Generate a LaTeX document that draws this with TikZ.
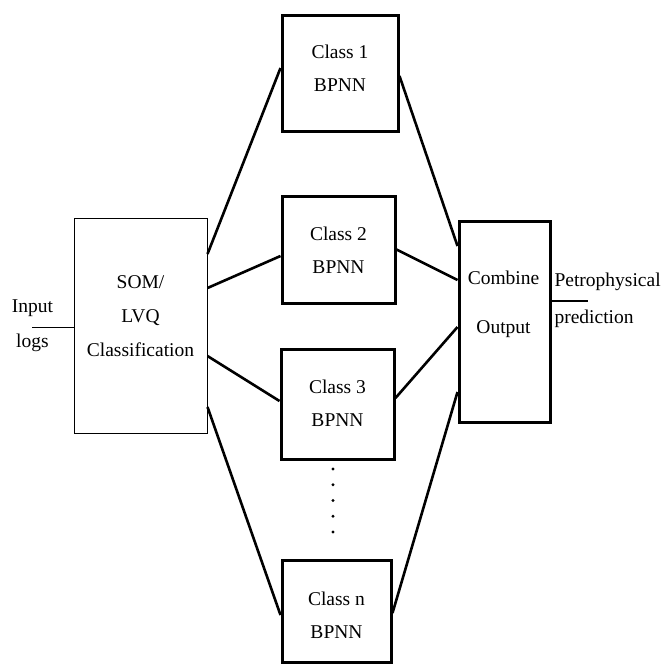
\documentclass[tikz,border=0pt]{standalone}
\usepackage{fontspec}
\setmainfont{Liberation Serif}
\usetikzlibrary{positioning,calc}

\begin{document}
\begin{tikzpicture}[x=1pt,y=-1pt,
  clsbox/.style={draw,line width=3pt,inner sep=0pt},
  lbl/.style={align=center,font=\fontsize{19.5}{33}\selectfont},
  link/.style={line width=2.6pt}]
  \useasboundingbox (0,0) rectangle (663,664);
  % classifier and combiner
  \node[draw,line width=1pt,minimum width=133pt,minimum height=215pt] (som) at (140.5,325.5) {};
  \node[lbl,font=\fontsize{19.5}{34}\selectfont] (somtxt) at (140.5,316) {SOM/\\LVQ\\Classification};
  \node[clsbox,minimum width=91pt,minimum height=201pt] (comb) at (504.5,321.5) {};
  \node[lbl,font=\fontsize{19.5}{49}\selectfont] (combtxt) at (503.5,304.5) {Combine\\Output};
  % class networks
  \node[clsbox,minimum width=116pt,minimum height=116pt] (c1) at (340,73) {};
  \node[lbl] (c1txt) at (340,68.5) {Class 1\\BPNN};
  \node[clsbox,minimum width=113pt,minimum height=107pt] (c2) at (338.5,249.5) {};
  \node[lbl] (c2txt) at (338.5,250) {Class 2\\BPNN};
  \node[clsbox,minimum width=113pt,minimum height=110pt] (c3) at (337.5,404) {};
  \node[lbl] (c3txt) at (337.5,403) {Class 3\\BPNN};
  \node[clsbox,minimum width=109pt,minimum height=102pt] (cn) at (336.5,611) {};
  \node[lbl] (cntxt) at (336.5,615) {Class n\\BPNN};
  \foreach \k in {0,...,4}
    \fill (333,469+15.75*\k) circle (1.7pt);
  % input and output
  \node[lbl,font=\fontsize{19.5}{35}\selectfont] (inp) at (32.5,325.5) {Input\\logs};
  \coordinate (inend) at (32,327.5);
  \draw[line width=1.3pt] (inend) -- (inend -| som.west);
  \node[lbl,align=left,anchor=west,font=\fontsize{19.5}{37}\selectfont] (pred) at (551,300.5) {Petrophysical\\prediction};
  \coordinate (outend) at (588,301);
  \draw[line width=1.3pt] (comb.east |- outend) -- (outend);
  % connectors
  \draw[link] (som.east |- 0,254) -- (c1.west |- 0,68);
  \draw[link] (som.east |- 0,288) -- (c2.west |- 0,256);
  \draw[link] (som.east |- 0,356) -- (c3.west |- 0,401);
  \draw[link] (som.east |- 0,407) -- (cn.west |- 0,615);
  \draw[link] (c1.east |- 0,76) -- (comb.west |- 0,246);
  \draw[link] (c2.east |- 0,249.5) -- (comb.west |- 0,280);
  \draw[link] (c3.east |- 0,398) -- (comb.west |- 0,327);
  \draw[link] (cn.east |- 0,613) -- (comb.west |- 0,392);
\end{tikzpicture}
\end{document}
